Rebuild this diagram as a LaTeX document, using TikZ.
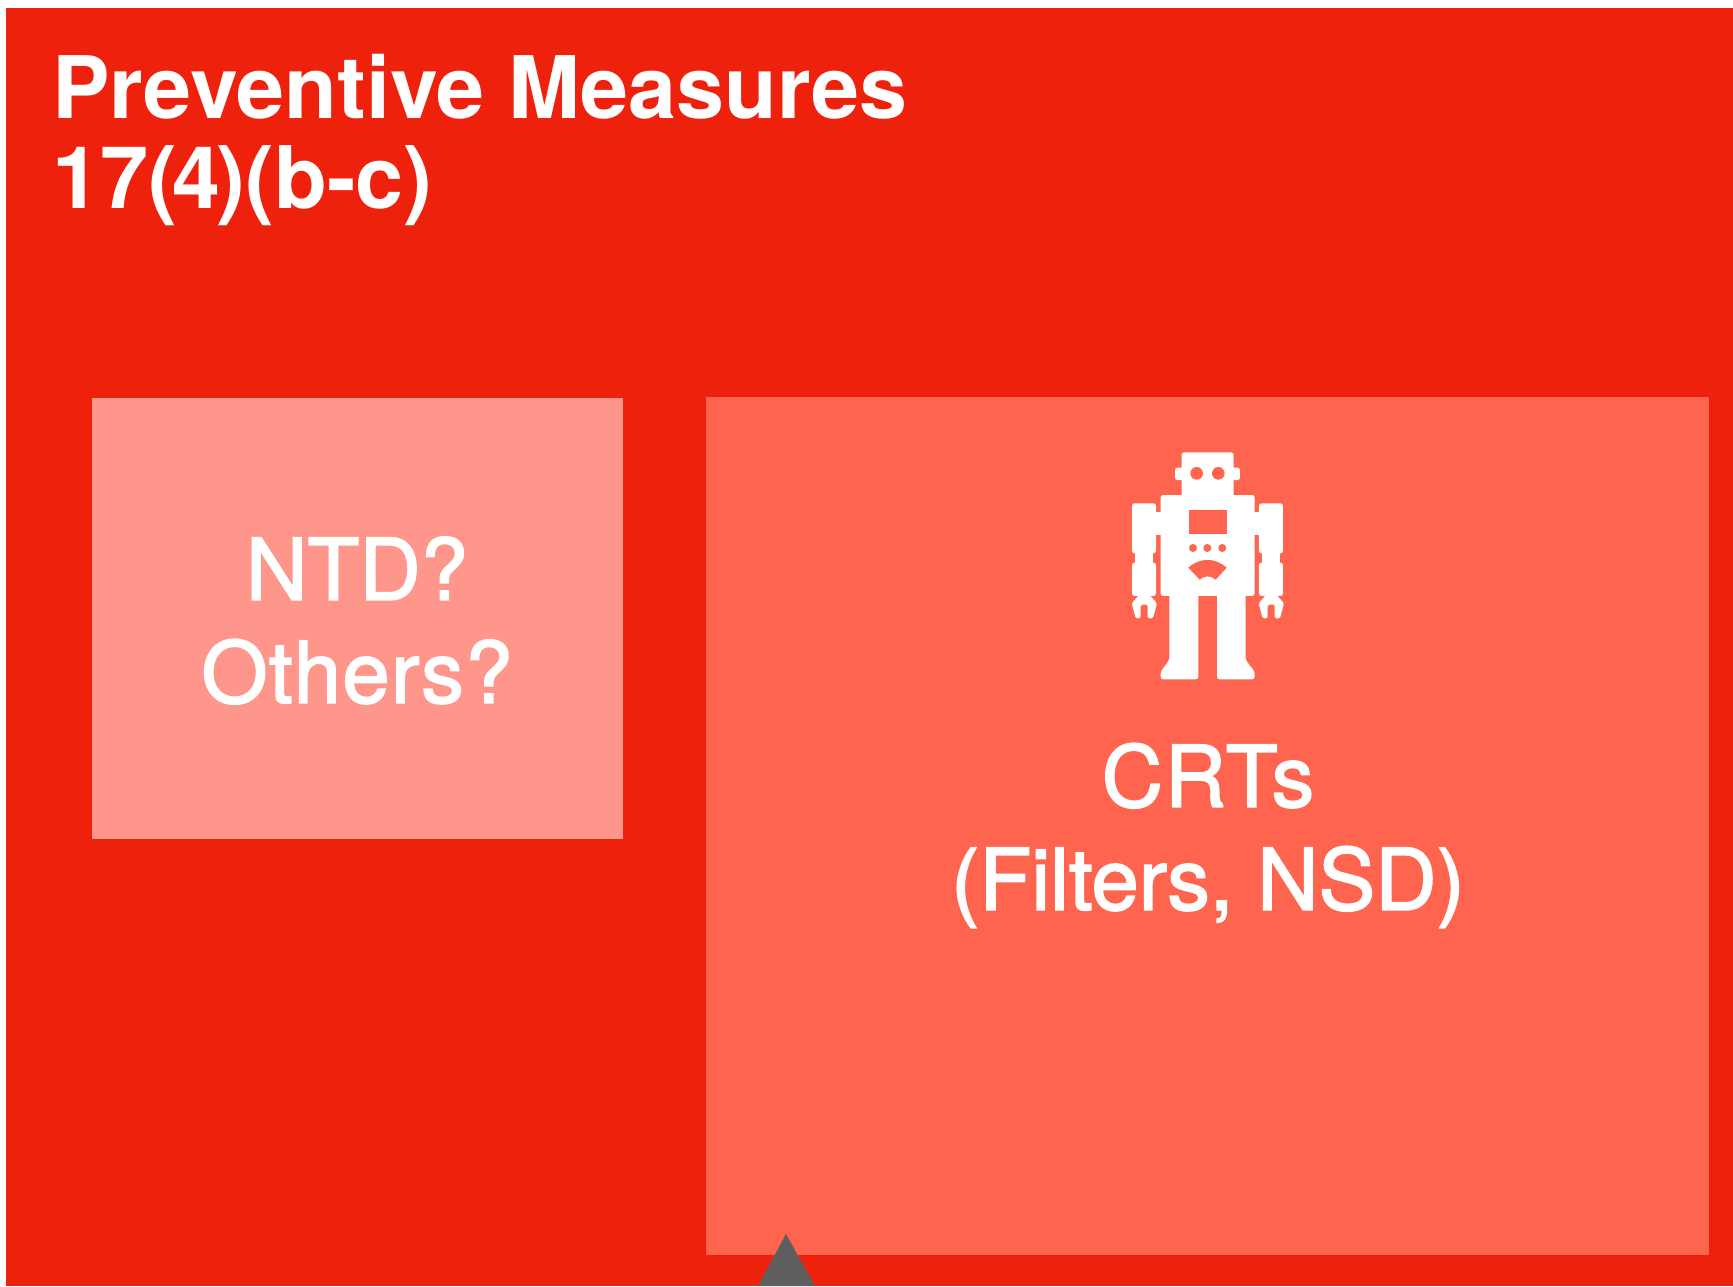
\documentclass[tikz,border=0pt]{standalone}
\usepackage{fontspec}
\setmainfont{TeX Gyre Heros}
\newfontfamily\labelfont[FakeBold=2]{TeX Gyre Heros}
\definecolor{redbg}{HTML}{EE220C}
\definecolor{boxlight}{HTML}{FF968B}
\definecolor{boxmid}{HTML}{FF644E}
\definecolor{markgrey}{HTML}{5E5E5E}
\tikzset{
  labeltext/.style={text=white,align=center,inner sep=0pt,font=\labelfont\fontsize{85}{103}\selectfont},
  titletext/.style={text=white,align=left,inner sep=0pt,anchor=north west,font=\fontsize{86.3}{90}\selectfont\bfseries},
  robotbody/.style={fill=white,draw=none,rounded corners=2.5pt},
  robothole/.style={fill=boxmid,draw=none},
}
\begin{document}
\begin{tikzpicture}[x=1pt,y=-1pt]
\useasboundingbox (0,0) rectangle (1733,1286);
\fill[white] (0,0) rectangle (1733,1286);
\fill[redbg] (6,8) rectangle (1733,1286);
\fill[boxlight] (92,398) rectangle (623,839);
\fill[boxmid] (706,397) rectangle (1709,1255);
\fill[markgrey] (786,1234) -- (815,1286) -- (758,1286) -- cycle;
\node[titletext] (title) at (52,54) {Preventive Measures\\17(\kern-4pt 4\kern-4pt)(b-c)};
\node[labeltext] (ntd) at (357,620.5) {NTD?\\{\addfontfeature{LetterSpace=1.7}Others?}};
\node[labeltext] (crt) at (1208,835.5) {{\addfontfeature{LetterSpace=2}CRTs}\\(Filters, NSD)};
\begin{scope}[shift={(1100,430)},x=0.3333pt,y=-0.3333pt]
  \path[robotbody] (245,200) rectangle (401,67);
  \path[robotbody] (225,150) rectangle (420,113);
  \path[robotbody] (182,498) rectangle (464,195);
  \fill[white] (160,245) rectangle (486,315);
  \foreach \dx in {0,381}{
    \begin{scope}[xshift=\dx*0.3333pt]
    \path[robotbody] (96,370) rectangle (168,220);
    \fill[white] (104,365) rectangle (160,402);
    \path[robotbody] (96,498) rectangle (168,398);
    \path[fill=white,rounded corners=1.5pt] (118,494) -- (95,520) -- (107,565) -- (122,565) -- (122,524) -- (143,524) -- (143,565) -- (159,565) -- (171,520) -- (148,494) -- cycle;
    \end{scope}
  }
  \path[fill=white,rounded corners=2.5pt] (208,490) -- (295,490) -- (295,748) -- (182,748) -- (182,725) -- (208,690) -- cycle;
  \path[fill=white,rounded corners=2.5pt] (351,490) -- (437,490) -- (437,690) -- (464,725) -- (464,748) -- (351,748) -- cycle;
  \fill[white] (295,490) rectangle (351,498);
  \fill[robothole] (266,240) rectangle (380,313);
  \fill[robothole] (290,130) circle[radius=19];
  \fill[robothole] (355,130) circle[radius=19];
  \fill[robothole] (279,354) circle[radius=12];
  \fill[robothole] (322,354) circle[radius=12];
  \fill[robothole] (367,354) circle[radius=12];
  \fill[robothole] (265,413) .. controls (300,382) and (345,382) .. (380,413) -- (347,449) .. controls (332,436) and (314,436) .. (299,449) -- cycle;
\end{scope}
\end{tikzpicture}
\end{document}
